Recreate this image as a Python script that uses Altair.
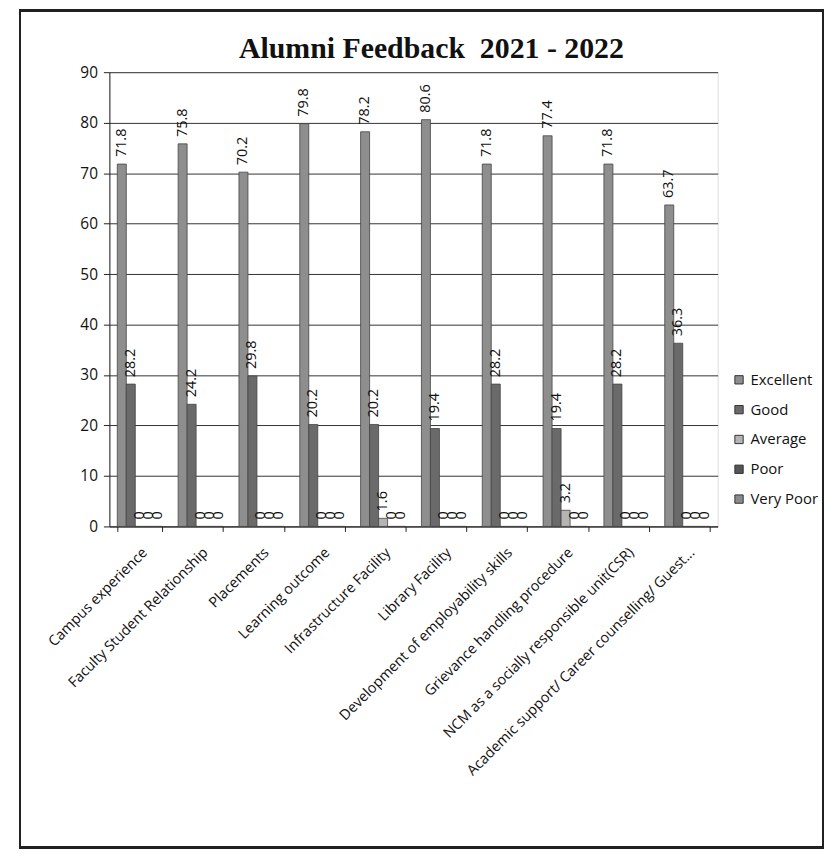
import altair as alt
import pandas as pd

categories = [
    "Campus experience",
    "Faculty Student Relationship",
    "Placements",
    "Learning outcome",
    "Infrastructure Facility",
    "Library Facility",
    "Development of employability skills",
    "Grievance handling procedure",
    "NCM as a socially responsible unit(CSR)",
    "Academic support/ Career counselling/ Guest...",
]
series = ["Excellent", "Good", "Average", "Poor", "Very Poor"]
excellent = [71.8, 75.8, 70.2, 79.8, 78.2, 80.6, 71.8, 77.4, 71.8, 63.7]
good = [28.2, 24.2, 29.8, 20.2, 20.2, 19.4, 28.2, 19.4, 28.2, 36.3]
average = [0, 0, 0, 0, 1.6, 0, 0, 3.2, 0, 0]
poor = [0, 0, 0, 0, 0, 0, 0, 0, 0, 0]
very_poor = [0, 0, 0, 0, 0, 0, 0, 0, 0, 0]
series_colors = ["#8e8e8e", "#6a6a6a", "#b4b4b4", "#555555", "#8a8a8a"]

rows = []
for s, vals in zip(series, [excellent, good, average, poor, very_poor]):
    for c, v in zip(categories, vals):
        rows.append({"Category": c, "Series": s, "Value": v})
df = pd.DataFrame(rows)

FONT = "Open Sans"
W, H = 612, 457

x_enc = alt.X(
    "Category:N",
    sort=categories,
    scale=alt.Scale(paddingInner=0.26, paddingOuter=0.13),
    axis=alt.Axis(
        title=None,
        labelAngle=-45,
        labelFont=FONT,
        labelFontSize=14.5,
        labelColor="#111",
        labelLimit=400,
        labelPadding=14,
        tickBand="extent",
        tickSize=5,
        tickColor="#222",
        domainColor="#222",
        grid=False,
    ),
)
xoff = alt.XOffset("Series:N", sort=series)
y_enc = alt.Y(
    "Value:Q",
    scale=alt.Scale(domain=[0, 90]),
    axis=alt.Axis(
        title=None,
        values=list(range(0, 91, 10)),
        labelFont=FONT,
        labelFontSize=15.5,
        labelColor="#111",
        labelPadding=6,
        tickSize=6,
        tickColor="#222",
        domainColor="#222",
        gridColor="#333",
        gridWidth=1,
    ),
)

bars = alt.Chart(df).mark_bar(stroke="#444", strokeWidth=0.8).encode(
    x=x_enc,
    xOffset=xoff,
    y=y_enc,
    color=alt.Color(
        "Series:N",
        sort=series,
        scale=alt.Scale(domain=series, range=series_colors),
        legend=alt.Legend(
            title=None,
            orient="none",
            legendX=626,
            legendY=302,
            symbolType="square",
            symbolSize=70,
            symbolStrokeColor="#333",
            symbolStrokeWidth=1,
            labelFont=FONT,
            labelFontSize=15,
            labelColor="#111",
            rowPadding=14,
            labelOffset=4,
        ),
    ),
)

labels = alt.Chart(df).mark_text(
    angle=270, align="left", baseline="middle", dx=7,
    font=FONT, fontSize=14.5, color="#111",
).encode(
    x=alt.X("Category:N", sort=categories),
    xOffset=xoff,
    y="Value:Q",
    text=alt.Text("Value:Q", format=".1~f"),
)

frame = alt.Chart(df).mark_rect(fill=None, stroke="#222", strokeWidth=1.5, clip=False).encode(
    x=alt.value(-90), x2=alt.value(718), y=alt.value(-62), y2=alt.value(780)
)

chart = alt.layer(frame, bars, labels).properties(
    width=W,
    height=H,
    title=alt.TitleParams(
        "Alumni Feedback\u00a0 2021 - 2022",
        font="Liberation Serif",
        fontSize=30,
        fontWeight="bold",
        color="#111",
        anchor="middle",
        frame="group",
        dx=18,
        offset=-54,
    ),
    autosize=alt.AutoSizeParams(type="none"),
    padding={"left": 102, "top": 62, "right": 108, "bottom": 330},
).configure_view(stroke=None).configure(background="white")

chart.save("out.html", embed_options={"renderer": "svg", "actions": False})
